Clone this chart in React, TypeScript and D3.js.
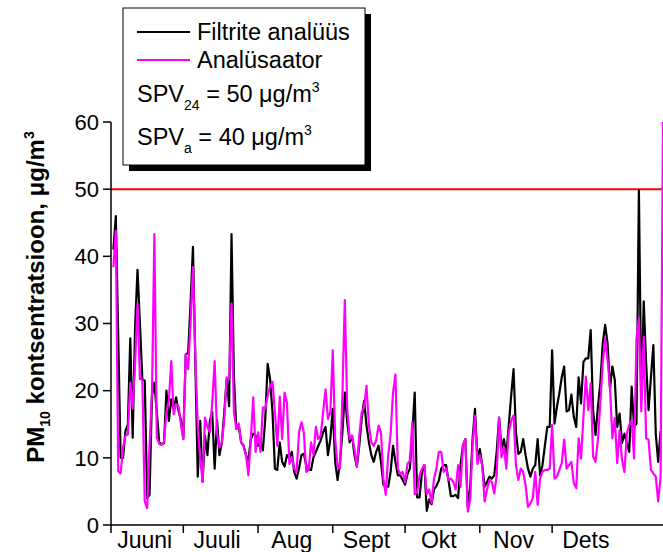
import React from 'react';
import * as d3 from 'd3';

// daily PM10 values, first value is 2 June
const filterValues = [
  41, 46, 28, 10, 10, 14, 15, 27.8, 13, 29.6, 38, 30, 21.7, 21.5, 4, 4.5, 19.2, 21.2, 16.8, 12.3,
  12, 12.2, 20, 15.5, 18.7, 17.2, 19, 17, 15.7, 12.8, 25.4, 25.6, 33, 41.4, 24, 7.2, 15.5, 6.5, 13.3, 10.4,
  15.5, 16.8, 8.4, 15.6, 10.4, 12.3, 16.8, 21.7, 17.7, 43.3, 22, 14.3, 14.8, 12.3, 11.8, 10.4, 9.6, 12.8, 13.6, 13.3,
  11.8, 12.3, 11.1, 15.8, 24, 21.7, 16.8, 8.4, 8.2, 12.3, 9.4, 8.7, 10.4, 9.9, 10.9, 7.9, 6.9, 8.4, 10.4, 10.6,
  8.9, 8.2, 8.2, 10.1, 10.9, 11.8, 12.6, 13.8, 14.6, 10.4, 12.8, 17.3, 9.4, 6.7, 9.4, 13.8, 19.7, 15.3, 12.3, 13.3,
  10.4, 8.7, 11.8, 15.8, 18.5, 14.8, 12.3, 10.4, 9.4, 10.9, 11.8, 9.4, 6, 5.7, 5.7, 7.9, 11.8, 9.4, 7.4, 7.4,
  6.7, 6, 7.6, 8.4, 13.8, 19.7, 4.1, 4.1, 7.9, 8.9, 2.1, 3.8, 3.1, 5.3, 5.8, 6.6, 8.4, 8.9, 8.9, 6.7,
  4.3, 4.3, 4.5, 4, 8.9, 11.8, 12.8, 2.7, 5.5, 12.8, 17.3, 9.9, 11.3, 8.9, 5.7, 6.4, 7.2, 6.9, 7.4, 10.9,
  16, 11.3, 12.8, 10.4, 14.8, 19.2, 23.2, 13.8, 10.6, 10.9, 12.8, 10.4, 8.4, 7.2, 8.4, 8.9, 12.8, 7.4, 8.9, 11.8,
  14.6, 14.6, 26, 15.1, 17.6, 19.6, 22, 23.6, 16.9, 17.1, 19.4, 16.1, 14.6, 22, 18.1, 24.3, 24.8, 24.8, 29, 17.1,
  13.4, 17.6, 21.1, 27, 29.8, 27, 20.3, 23.6, 21.6, 14.6, 16.6, 12.2, 13.6, 12.2, 10.9, 20.6, 14.6, 15.1, 49.9, 18.6,
  33.3, 24.1, 17.1, 22, 26.8, 13.6, 9.4, 14,
];

const analyzerValues = [
  38.4, 43.8, 8, 7.7, 11.5, 13.3, 13.5, 21.2, 17.3, 24, 33, 21.7, 21.7, 3.5, 2.5, 12, 19.7, 43.3, 13, 12.1,
  11.9, 12.4, 16.8, 18.5, 24.4, 16.5, 18, 17.7, 15, 12.8, 25.4, 23.2, 30, 38.4, 25, 14.5, 10, 6.4, 16, 14.6,
  13.8, 18.2, 24.4, 13.6, 11.5, 12.3, 15.8, 22, 21.7, 33, 16.8, 14.3, 15.1, 12.3, 11.8, 10.4, 7.4, 12.8, 19, 10.9,
  13.8, 10.9, 17.5, 17.3, 19.2, 20.7, 21.3, 16.8, 11.8, 19.1, 12.8, 19.7, 18.2, 9.1, 10.1, 8.4, 7.9, 13.8, 15.3, 13.8,
  7.9, 8.2, 12.3, 10.4, 14.6, 12.8, 13.3, 16.8, 20.2, 15.8, 16.8, 26, 12.8, 8.7, 8.4, 19.2, 33.5, 17.3, 12.8, 13.3,
  11.3, 8.7, 13.3, 16.8, 17.5, 20.7, 14.8, 12.3, 11.8, 12.6, 14.8, 13.8, 6.9, 4.5, 10.4, 13.6, 19.7, 22.4, 8.4, 7.6,
  7.9, 6.4, 9.1, 9.6, 15.3, 4.6, 4.9, 7.4, 8.4, 8.9, 4.6, 5.3, 3.3, 6.9, 8.4, 10.9, 10.9, 7.9, 8.4, 6.7,
  6.9, 6.4, 5.3, 8.9, 5.7, 11.8, 12.8, 2, 3.7, 11.8, 16.3, 9.1, 10.4, 8.9, 3.5, 5.3, 6.7, 6.4, 4.7, 7.4,
  16, 10.1, 11.6, 8.4, 13.8, 15.5, 16.3, 8.9, 6.7, 8.4, 7.9, 5.9, 2.7, 3.2, 4, 7.9, 3, 6.9, 7.9, 8.2,
  8.2, 8.4, 14.9, 6.9, 7.2, 8.2, 9.2, 12.7, 8.4, 8.9, 9.4, 6.2, 5.5, 12.9, 9.9, 16.1, 22.1, 17.1, 21.1, 10.2,
  9.4, 12.7, 18.1, 24.1, 27.8, 24.6, 20.6, 12.9, 15.9, 9.2, 14.1, 9.7, 7.9, 13.6, 14.9, 15.6, 9.9, 27.8, 30.8, 16.9,
  28, 12.9, 12.7, 8.2, 7.7, 7.2, 3.5, 7.2, 60,
];

const monthLabels = ['Juuni', 'Juuli', 'Aug', 'Sept', 'Okt', 'Nov', 'Dets'];
const yTicks = [0, 10, 20, 30, 40, 50, 60];
const limit24 = 50;
const limitYear = 40;

const start = new Date(Date.UTC(2009, 5, 1));
const day = (i: number) => d3.utcDay.offset(start, i);

const W = 663;
const H = 552;
const FONT = "Arial, 'Liberation Sans', sans-serif";

export default function App() {
  const x = d3.scaleUtc().domain([start, day(229)]).range([111, 663]);
  const y = d3.scaleLinear().domain([0, 60]).range([525, 122]);

  const line = d3.line<number>()
    .x((_, i) => x(day(i + 1)))
    .y(d => y(d));

  const monthStarts = monthLabels.map((_, i) => d3.utcMonth.offset(start, i));
  const monthMids = monthStarts.map(m => d3.utcDay.offset(m, 14));

  return (
    <svg width={W} height={H} style={{ position: 'absolute', left: 0, top: 0, background: '#fff' }}
      fontFamily={FONT}>
      <rect width={W} height={H} fill="#fff" />

      {/* SPV24 piir */}
      <line x1={111} x2={663} y1={y(limit24)} y2={y(limit24)} stroke="#ff0000" strokeWidth={2} />

      <path d={line(filterValues) || ''} fill="none" stroke="#000" strokeWidth={2.2} strokeLinejoin="round" />
      <path d={line(analyzerValues) || ''} fill="none" stroke="#ff00ff" strokeWidth={2.2} strokeLinejoin="round" />

      {/* y telg */}
      <line x1={111} x2={111} y1={y(60)} y2={y(0) + 1} stroke="#000" strokeWidth={1.5} />
      {yTicks.map(t => (
        <g key={t}>
          <line x1={103} x2={111} y1={y(t)} y2={y(t)} stroke="#000" strokeWidth={1.5} />
          <text x={99} y={y(t)} dy="0.35em" textAnchor="end" fontSize={22}>{t}</text>
        </g>
      ))}

      {/* x telg */}
      <line x1={110} x2={663} y1={y(0)} y2={y(0)} stroke="#000" strokeWidth={1.5} />
      {monthStarts.map((m, i) => (
        <line key={i} x1={x(m)} x2={x(m)} y1={y(0)} y2={y(0) + 8} stroke="#000" strokeWidth={1.5} />
      ))}
      {monthMids.map((m, i) => (
        <text key={i} x={x(m)} y={548} textAnchor="middle" fontSize={23}>{monthLabels[i]}</text>
      ))}

      {/* y telje nimi */}
      <text transform={`translate(44,297) rotate(-90)`} textAnchor="middle" fontSize={24} fontWeight="bold">
        PM<tspan fontSize={14} dy={6}>10</tspan>
        <tspan dy={-6}> kontsentratsioon, μg/m</tspan>
        <tspan fontSize={14} dy={-10}>3</tspan>
      </text>

      {/* legend */}
      <rect x={129} y={14} width={242} height={157} fill="#000" />
      <rect x={123} y={8} width={242} height={157} fill="#fff" stroke="#000" strokeWidth={1} />
      <line x1={137} x2={190} y1={32} y2={32} stroke="#000" strokeWidth={2} />
      <text x={197} y={40} fontSize={23.5}>Filtrite analüüs</text>
      <line x1={137} x2={190} y1={60} y2={60} stroke="#ff00ff" strokeWidth={2} />
      <text x={197} y={68} fontSize={23.5}>Analüsaator</text>
      <text x={137} y={102} fontSize={23.5}>
        SPV<tspan fontSize={14} dy={8}>24</tspan>
        <tspan dy={-8}> = {limit24} μg/m</tspan>
        <tspan fontSize={14} dy={-10}>3</tspan>
      </text>
      <text x={137} y={145} fontSize={23.5}>
        SPV<tspan fontSize={14} dy={8}>a</tspan>
        <tspan dy={-8}> = {limitYear} μg/m</tspan>
        <tspan fontSize={14} dy={-10}>3</tspan>
      </text>
    </svg>
  );
}
